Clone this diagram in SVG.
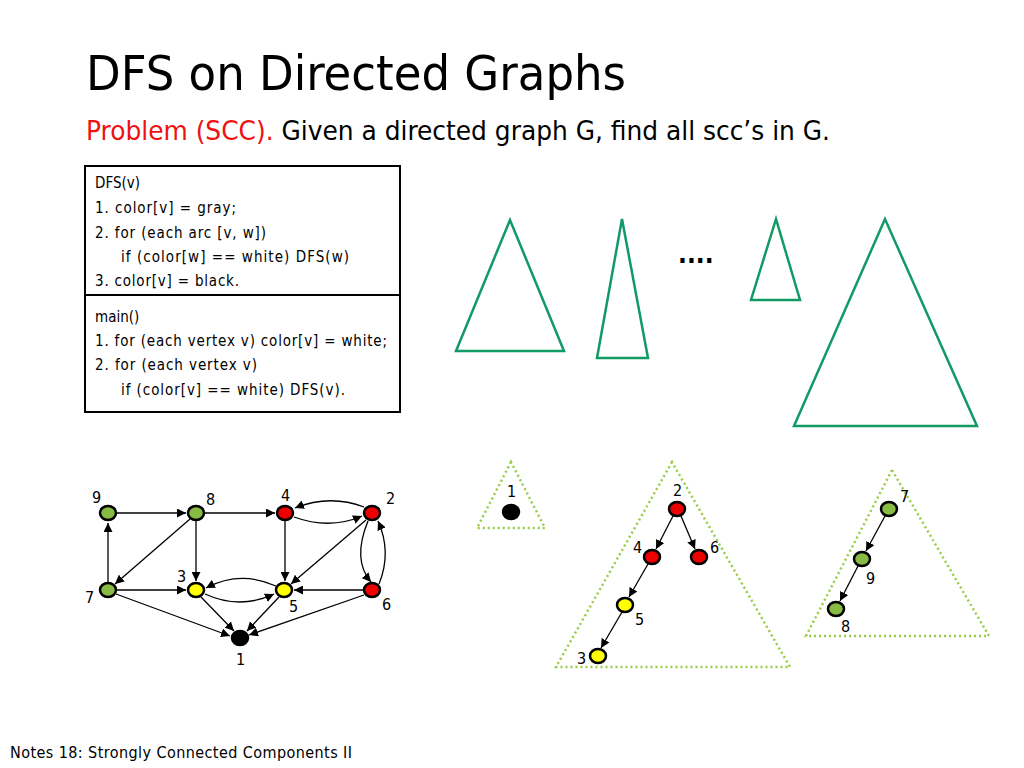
<svg xmlns="http://www.w3.org/2000/svg" width="1024" height="768" viewBox="0 0 1024 768">
<style>
text{font-family:"DejaVu Sans Condensed","DejaVu Sans",sans-serif;fill:#000}
.code{font-size:15px}
.lbl{font-size:16px}
.n{stroke:#000;stroke-width:2.5}
.e{stroke:#000;stroke-width:1.3;fill:none;marker-end:url(#a)}
.tri{fill:none;stroke:#119966;stroke-width:2.5}
.dt{fill:none;stroke:#99cc44;stroke-width:2.5;stroke-dasharray:2 3}
</style>
<defs><marker id="a" viewBox="0 0 10 10" refX="10" refY="5" markerWidth="9" markerHeight="9" orient="auto" markerUnits="userSpaceOnUse"><path d="M0,0L10,5L0,10z"/></marker></defs>
<rect width="1024" height="768" fill="#fff"/>
<text x="86" y="90" font-size="48" textLength="540" lengthAdjust="spacingAndGlyphs">DFS on Directed Graphs</text>
<text x="86" y="140" font-size="27" textLength="744" lengthAdjust="spacingAndGlyphs"><tspan fill="#ee1111">Problem (SCC).</tspan> Given a directed graph G, find all scc’s in G.</text>
<g id="code">
<rect x="85" y="166" width="315" height="246" fill="none" stroke="#000" stroke-width="2"/>
<line x1="85" y1="295" x2="400" y2="295" stroke="#000" stroke-width="2"/>
<text class="code" x="95" y="188">DFS(v)</text>
<text class="code" x="95" y="213" textLength="141">1. color[v] = gray;</text>
<text class="code" x="95" y="238" textLength="171">2. for (each arc [v, w])</text>
<text class="code" x="121" y="262" textLength="228">if (color[w] == white) DFS(w)</text>
<text class="code" x="95" y="286" textLength="144">3. color[v] = black.</text>
<text class="code" x="95" y="322">main()</text>
<text class="code" x="95" y="346" textLength="292">1. for (each vertex v) color[v] = white;</text>
<text class="code" x="95" y="370" textLength="162">2. for (each vertex v)</text>
<text class="code" x="121" y="395" textLength="224">if (color[v] == white) DFS(v).</text>
</g>
<g id="trees">
<polygon class="tri" points="510,220 456,351 564,351"/>
<polygon class="tri" points="622,219 597,358 648,358"/>
<polygon class="tri" points="776,219 751,300 800,300"/>
<polygon class="tri" points="885,219 794,426 977,426"/>
<text x="678" y="263" font-size="26" font-weight="bold">....</text>
</g>
<g id="connectors">
<line class="e" x1="117" y1="513" x2="186" y2="513"/>
<line class="e" x1="205" y1="513" x2="275" y2="513"/>
<path class="e" d="M364,507 Q330,494 295,508"/>
<path class="e" d="M294,517 Q330,530 362,516"/>
<line class="e" x1="285" y1="521" x2="285" y2="581"/>
<line class="e" x1="196" y1="521" x2="196" y2="581"/>
<line class="e" x1="190" y1="519" x2="115" y2="584"/>
<line class="e" x1="108" y1="582" x2="108" y2="523"/>
<line class="e" x1="117" y1="590" x2="186" y2="590"/>
<path class="e" d="M276,586 Q240,570 206,588"/>
<path class="e" d="M205,594 Q240,610 274,594"/>
<line class="e" x1="363" y1="590" x2="294" y2="590"/>
<line class="e" x1="366" y1="520" x2="291" y2="584"/>
<path class="e" d="M368,521 Q352,560 371,582"/>
<path class="e" d="M379,584 Q392,552 378,521"/>
<line class="e" x1="116" y1="594" x2="230" y2="636"/>
<line class="e" x1="201" y1="597" x2="234" y2="631"/>
<line class="e" x1="279" y1="597" x2="247" y2="631"/>
<line class="e" x1="364" y1="595" x2="249" y2="635"/>
<line class="e" x1="673" y1="516" x2="656" y2="549"/>
<line class="e" x1="681" y1="516" x2="695" y2="549"/>
<line class="e" x1="648" y1="564" x2="629" y2="597"/>
<line class="e" x1="622" y1="612" x2="601" y2="648"/>
<line class="e" x1="885" y1="516" x2="866" y2="551"/>
<line class="e" x1="858" y1="566" x2="840" y2="601"/>
</g>
<g id="nodes">
<ellipse class="n" cx="108" cy="513" rx="8" ry="7" fill="#88bb44"/>
<ellipse class="n" cx="196" cy="513" rx="8" ry="7" fill="#88bb44"/>
<ellipse class="n" cx="285" cy="513" rx="8" ry="7" fill="#ee0000"/>
<ellipse class="n" cx="372" cy="513" rx="8" ry="7" fill="#ee0000"/>
<ellipse class="n" cx="108" cy="590" rx="8" ry="7" fill="#88bb44"/>
<ellipse class="n" cx="196" cy="590" rx="8" ry="7" fill="#ffff00"/>
<ellipse class="n" cx="284" cy="590" rx="8" ry="7" fill="#ffff00"/>
<ellipse class="n" cx="372" cy="590" rx="8" ry="7" fill="#ee0000"/>
<ellipse class="n" cx="240" cy="638" rx="8" ry="7" fill="#000"/>
<text class="lbl" x="92" y="503">9</text><text class="lbl" x="206" y="505">8</text>
<text class="lbl" x="281" y="501">4</text><text class="lbl" x="386" y="504">2</text>
<text class="lbl" x="85" y="603">7</text><text class="lbl" x="177" y="582">3</text>
<text class="lbl" x="289" y="612">5</text><text class="lbl" x="382" y="610">6</text>
<text class="lbl" x="236" y="665">1</text>
<polygon class="dt" points="511,462 477,528 545,528"/>
<polygon class="dt" points="672,462 556,667 790,667"/>
<polygon class="dt" points="892,470 806,636 989,636"/>
<ellipse class="n" cx="511" cy="512" rx="8" ry="7" fill="#000"/>
<ellipse class="n" cx="677" cy="509" rx="8" ry="7" fill="#ee0000"/>
<ellipse class="n" cx="652" cy="557" rx="8" ry="7" fill="#ee0000"/>
<ellipse class="n" cx="699" cy="557" rx="8" ry="7" fill="#ee0000"/>
<ellipse class="n" cx="625" cy="605" rx="8" ry="7" fill="#ffff00"/>
<ellipse class="n" cx="598" cy="656" rx="8" ry="7" fill="#ffff00"/>
<ellipse class="n" cx="889" cy="509" rx="8" ry="7" fill="#88bb44"/>
<ellipse class="n" cx="862" cy="559" rx="8" ry="7" fill="#88bb44"/>
<ellipse class="n" cx="836" cy="609" rx="8" ry="7" fill="#88bb44"/>
<text class="lbl" x="507" y="497">1</text><text class="lbl" x="673" y="496">2</text>
<text class="lbl" x="633" y="553">4</text><text class="lbl" x="710" y="553">6</text>
<text class="lbl" x="635" y="625">5</text><text class="lbl" x="577" y="664">3</text>
<text class="lbl" x="900" y="502">7</text><text class="lbl" x="866" y="584">9</text>
<text class="lbl" x="841" y="632">8</text>
</g>
<text x="10" y="758" font-size="16" textLength="342">Notes 18: Strongly Connected Components II</text>
</svg>
